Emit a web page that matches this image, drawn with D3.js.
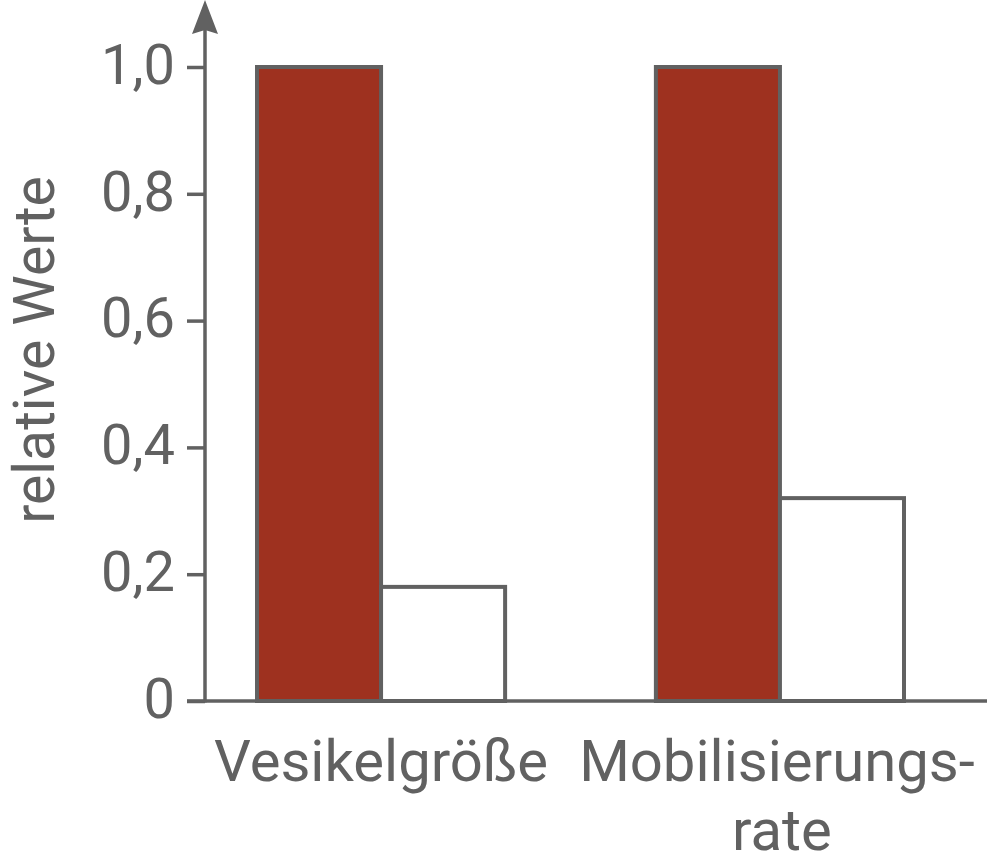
<!DOCTYPE html>
<html>
<head>
<meta charset="utf-8">
<script src="https://cdn.jsdelivr.net/npm/d3@7"></script>
<style>
  html, body { margin: 0; padding: 0; background: #fff; }
  svg { display: block; }
  text { font-family: Roboto, "Noto Sans", sans-serif; fill: #616161; }
</style>
</head>
<body>
<svg id="chart" width="990" height="867"></svg>
<script>
const categories = ["Vesikelgröße", "Mobilisierungs-\nrate"];
const seriesNames = ["Kontrolle", "Mutante"];
const redValues = [1.0, 1.0];
const whiteValues = [0.18, 0.32];
const tickValues = [0, 0.2, 0.4, 0.6, 0.8, 1.0];
const tickLabels = ["0", "0,2", "0,4", "0,6", "0,8", "1,0"];
const yLabel = "relative Werte";

const gray = "#616161";
const red = "#9E311F";

const svg = d3.select("#chart");

const y = d3.scaleLinear().domain([0, 1]).range([701, 67]);
const x0 = d3.scaleBand().domain(categories).range([257, 904]).paddingInner(0.378).paddingOuter(0);
const x1 = d3.scaleBand().domain(seriesNames).range([0, x0.bandwidth()]);

const data = categories.map((c, i) => ({ cat: c, vals: [
  { s: seriesNames[0], v: redValues[i], fill: red },
  { s: seriesNames[1], v: whiteValues[i], fill: "#fff" }
]}));

// bars
const groups = svg.append("g").selectAll("g").data(data).join("g")
  .attr("transform", d => `translate(${x0(d.cat)},0)`);
groups.selectAll("rect").data(d => d.vals).join("rect")
  .attr("x", d => x1(d.s))
  .attr("y", d => y(d.v))
  .attr("width", x1.bandwidth())
  .attr("height", d => y(0) - y(d.v))
  .attr("fill", d => d.fill)
  .attr("stroke", gray)
  .attr("stroke-width", 4);

// y axis
const yAxis = d3.axisLeft(y).tickValues(tickValues)
  .tickFormat((d, i) => tickLabels[i]).tickSize(18).tickPadding(12);
const gy = svg.append("g").attr("transform", "translate(205,0)").call(yAxis);
gy.select(".domain").remove();
gy.selectAll(".tick line").attr("stroke", gray).attr("stroke-width", 3.5);
gy.selectAll(".tick text")
  .attr("font-size", 56).attr("fill", gray).attr("dy", "0.29em")
  .style("font-family", "Roboto, 'Noto Sans', sans-serif");

// y axis line with arrow
svg.append("line").attr("x1", 205).attr("x2", 205).attr("y1", y(0) + 1.5).attr("y2", 28)
  .attr("stroke", gray).attr("stroke-width", 3.5);
svg.append("path").attr("d", "M205,0 L218,34 L205,30 L192,34 Z").attr("fill", gray);

// x axis line
svg.append("line").attr("x1", 187).attr("x2", 987).attr("y1", y(0)).attr("y2", y(0))
  .attr("stroke", gray).attr("stroke-width", 3.5);

// x labels
const labelShift = [0, -3];
svg.append("g").selectAll("text").data(categories).join("text")
  .attr("y", 781)
  .attr("text-anchor", "middle")
  .attr("font-size", 58)
  .each(function(d, j) {
    const lines = d.split("\n");
    const cx = x0(d) + x0.bandwidth() / 2 + labelShift[j];
    d3.select(this).selectAll("tspan").data(lines).join("tspan")
      .attr("x", (l, i) => i === 0 ? cx : cx + 5)
      .attr("dy", (l, i) => i === 0 ? 0 : 69)
      .text(l => l);
  });

// y label
svg.append("text")
  .attr("transform", "translate(54,350) rotate(-90)")
  .attr("text-anchor", "middle")
  .attr("font-size", 57)
  .text(yLabel);
</script>
</body>
</html>
